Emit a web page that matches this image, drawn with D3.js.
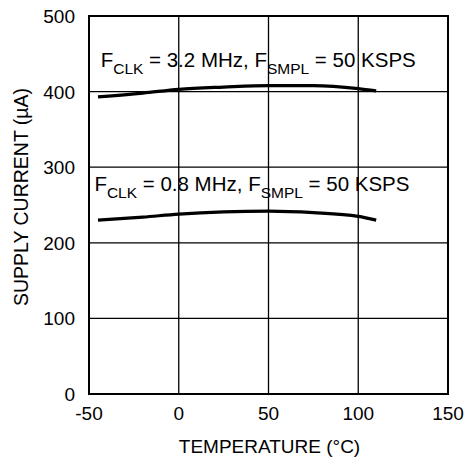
<!DOCTYPE html>
<html>
<head>
<meta charset="utf-8">
<script src="https://cdn.jsdelivr.net/npm/d3@7"></script>
<style>
  body { margin: 0; background: #fff; }
  text { font-family: "Liberation Sans", Arial, sans-serif; fill: #000; }
</style>
</head>
<body>
<div id="chart"></div>
<script>
// temperatures (°C) and supply currents (µA)
var temps = [-45, -20, 0, 25, 50, 75, 100, 110];
var curr32 = [393, 398, 403, 406, 408, 408, 404, 401];
var curr08 = [230, 234, 238, 241, 242, 240, 235, 230];
var xTicks = [-50, 0, 50, 100, 150];
var yTicks = [0, 100, 200, 300, 400, 500];
var labels = [
  { main: "F", sub: "CLK", rest: " = 3.2 MHz, F", sub2: "SMPL", tail: " = 50 KSPS", t: -43.5, v: 433 },
  { main: "F", sub: "CLK", rest: " = 0.8 MHz, F", sub2: "SMPL", tail: " = 50 KSPS", t: -47, v: 268 }
];

var width = 466, height = 457;
var pLeft = 89, pRight = 448, pTop = 16, pBottom = 394;

var x = d3.scaleLinear().domain([-50, 150]).range([pLeft, pRight]);
var y = d3.scaleLinear().domain([0, 500]).range([pBottom, pTop]);

var svg = d3.select("#chart").append("svg")
    .attr("width", width)
    .attr("height", height);

// grid
svg.selectAll("line.vg")
  .data(xTicks.slice(1, -1))
  .enter().append("line")
  .attr("x1", function(d){ return x(d); })
  .attr("x2", function(d){ return x(d); })
  .attr("y1", pTop).attr("y2", pBottom)
  .attr("stroke", "#000").attr("stroke-width", 1.3);

svg.selectAll("line.hg")
  .data(yTicks.slice(1, -1))
  .enter().append("line")
  .attr("y1", function(d){ return y(d); })
  .attr("y2", function(d){ return y(d); })
  .attr("x1", pLeft).attr("x2", pRight)
  .attr("stroke", "#000").attr("stroke-width", 1.3);

// frame
svg.append("rect")
  .attr("x", pLeft).attr("y", pTop)
  .attr("width", pRight - pLeft).attr("height", pBottom - pTop)
  .attr("fill", "none").attr("stroke", "#000").attr("stroke-width", 2);

// tick labels
svg.selectAll("text.xt")
  .data(xTicks)
  .enter().append("text")
  .attr("x", function(d){ return x(d); })
  .attr("y", 419.5)
  .attr("text-anchor", "middle")
  .style("font-size", "19px")
  .text(function(d){ return d; });

svg.selectAll("text.yt")
  .data(yTicks)
  .enter().append("text")
  .attr("x", 75)
  .attr("y", function(d){ return y(d) + 7; })
  .attr("text-anchor", "end")
  .style("font-size", "19px")
  .text(function(d){ return d; });

// axis titles
svg.append("text")
  .attr("x", 269.5)
  .attr("y", 453)
  .attr("text-anchor", "middle")
  .style("font-size", "19px")
  .text("TEMPERATURE (°C)");

svg.append("text")
  .attr("transform", "translate(27.5,197) rotate(-90)")
  .attr("text-anchor", "middle")
  .style("font-size", "19.5px")
  .text("SUPPLY CURRENT (µA)");

// curves
var line = d3.line()
  .x(function(d){ return x(d[0]); })
  .y(function(d){ return y(d[1]); })
  .curve(d3.curveMonotoneX);

[curr32, curr08].forEach(function(s){
  svg.append("path")
    .datum(temps.map(function(t, i){ return [t, s[i]]; }))
    .attr("d", line)
    .attr("fill", "none")
    .attr("stroke", "#000")
    .attr("stroke-width", 3.2);
});

// curve labels
labels.forEach(function(l){
  var t = svg.append("text")
    .attr("x", x(l.t)).attr("y", y(l.v))
    .style("font-size", "20.5px");
  t.append("tspan").text(l.main);
  t.append("tspan").attr("dy", 7).style("font-size", "15.5px").text(l.sub);
  t.append("tspan").attr("dy", -7).text(l.rest);
  t.append("tspan").attr("dy", 7).style("font-size", "15.5px").text(l.sub2);
  t.append("tspan").attr("dy", -7).text(l.tail);
});
</script>
</body>
</html>
